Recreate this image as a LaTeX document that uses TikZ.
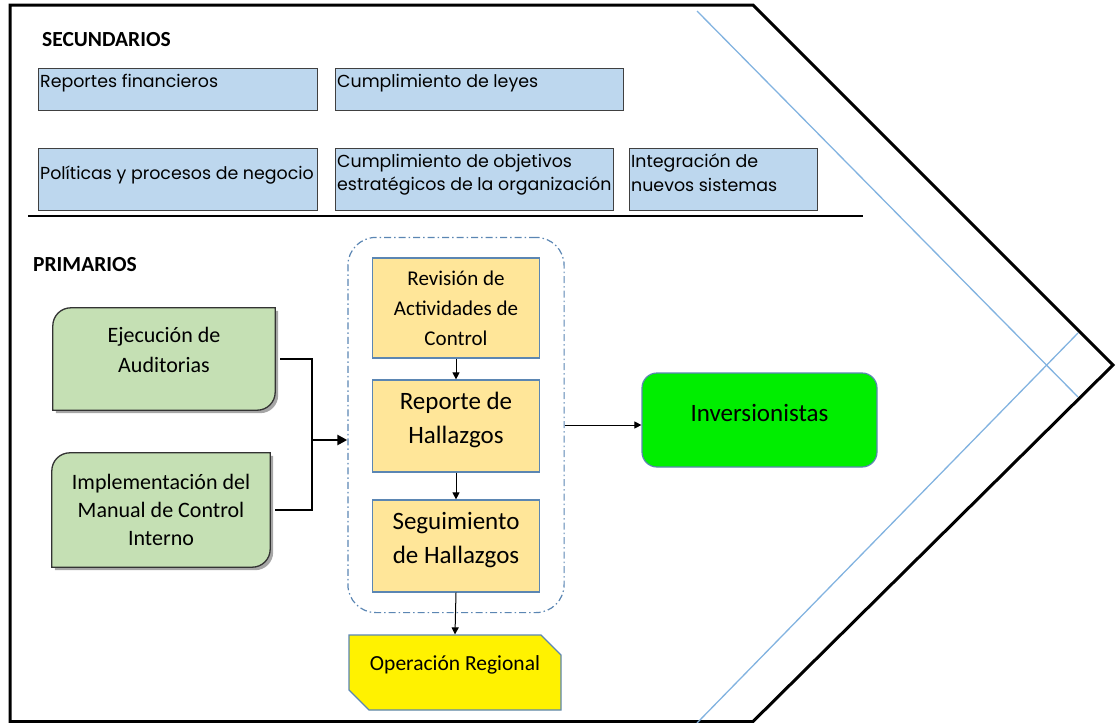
\documentclass[tikz,border=0pt]{standalone}
\usepackage{fontspec}
\setmainfont{Carlito}
\newfontfamily\gothic{Poppins}
\usepackage{tikz}
\usetikzlibrary{fit,shapes.misc,arrows.meta,shadows,backgrounds}
\definecolor{secblue}{HTML}{BDD7EE}
\definecolor{priggreen}{HTML}{C5E0B4}
\definecolor{procorange}{HTML}{FFE699}
\definecolor{procedge}{HTML}{5B86B3}
\definecolor{frameblue}{HTML}{82B3E0}
\definecolor{invgreen}{HTML}{00EE00}
\tikzset{>={Triangle[length=7pt,width=7pt]},
  title/.style={font=\bfseries\fontsize{21.5}{24}\selectfont, inner sep=0pt, anchor=west},
  secbox/.style={draw=black!75, line width=1.3pt, fill=secblue, anchor=north west, inner sep=0pt},
  sectext/.style={inner xsep=2pt, inner ysep=6pt, align=left, font=\gothic\fontsize{17.4}{23.5}\selectfont},
  primtext/.style={align=center, inner sep=0pt},
  primshape/.style={draw=black!80, line width=1.3pt, fill=priggreen,
    drop shadow={shadow xshift=3pt, shadow yshift=-3pt, opacity=0.35, fill=black}},
  procbox/.style={draw=procedge, line width=1.2pt, fill=procorange, align=center, inner sep=0pt},
  conn/.style={line width=1pt, ->}
}

\begin{document}
\begin{tikzpicture}[x=1pt,y=-1pt]
\useasboundingbox (0,0) rectangle (1117,723);

% marco de la cadena
\draw[line width=3pt] (10,5) -- (753,5) -- (1113,365) -- (753,721.5) -- (10,721.5) -- cycle;
\draw[frameblue, line width=1.3pt] (697,11) -- (1078,397);
\draw[frameblue, line width=1.3pt] (1078,333) -- (697,723);
\draw[line width=2.5pt] (28,216) -- (863,216);

\node[title] (sec) at (42,40) {SECUNDARIOS};
\node[title] (prim) at (33,265) {PRIMARIOS};

% actividades secundarias
\node[secbox, minimum width=279pt, minimum height=42pt] (repfin) at (38,68) {};
\node[secbox, minimum width=288pt, minimum height=42pt] (cumpley) at (335,68) {};
\node[secbox, minimum width=279pt, minimum height=62pt] (polit) at (38,148) {};
\node[secbox, minimum width=278pt, minimum height=62pt] (cumpobj) at (335,148) {};
\node[secbox, minimum width=188pt, minimum height=62pt] (integ) at (629,148) {};
\node[sectext, anchor=north west] (repfin-t) at (repfin.north west) {Reportes financieros};
\node[sectext, anchor=north west] (cumpley-t) at (cumpley.north west) {Cumplimiento de leyes};
\node[sectext, anchor=west] (polit-t) at ([yshift=5pt]polit.west) {Políticas y procesos de negocio};
\node[sectext, anchor=north west] (cumpobj-t) at (cumpobj.north west) {Cumplimiento de objetivos\\estratégicos de la organización};
\node[sectext, anchor=north west] (integ-t) at (integ.north west) {Integración de\\nuevos sistemas};

% actividades primarias
\node[primtext, minimum width=222pt, minimum height=102pt, text depth=18pt,
  font=\fontsize{22}{30}\selectfont] (ejec) at (164,359) {Ejecución de\\Auditorias};
\node[primtext, minimum width=218pt, minimum height=114pt,
  font=\fontsize{22}{28}\selectfont] (impl) at (161,510) {Implementación del\\Manual de Control\\Interno};
\begin{scope}[on background layer]
  \draw[primshape] (ejec.south west) [rounded corners=18pt] -- (ejec.north west) [sharp corners] -- (ejec.north east)
    [rounded corners=18pt] -- (ejec.south east) [sharp corners] -- cycle;
  \draw[primshape] (impl.south west) [rounded corners=18pt] -- (impl.north west) [sharp corners] -- (impl.north east)
    [rounded corners=18pt] -- (impl.south east) [sharp corners] -- cycle;
\end{scope}

\node[procbox, minimum width=167pt, minimum height=100pt, font=\fontsize{21}{30}\selectfont] (rev) at (456,308)
  {Revisión de\\Actividades de\\Control};
\node[procbox, minimum width=167pt, minimum height=92pt, text depth=17pt, font=\fontsize{25}{34}\selectfont] (rep) at (456,426)
  {Reporte de\\Hallazgos};
\node[procbox, minimum width=167pt, minimum height=92pt, text depth=17pt, font=\fontsize{25}{34}\selectfont] (seg) at (456,546)
  {Seguimiento\\de Hallazgos};
\node[draw=procedge, line width=1.2pt, dash pattern=on 7pt off 3pt on 1.5pt off 3pt, rounded corners=28pt,
  inner xsep=24pt, inner ysep=20pt, fit=(rev)(seg)] (grupo) {};

\node[chamfered rectangle, chamfered rectangle corners={north east,south west}, chamfered rectangle xsep=10pt,
  chamfered rectangle ysep=10pt, draw=procedge, line width=1.2pt, fill=yellow, minimum width=212pt,
  minimum height=75pt, inner sep=0pt, text depth=18pt, font=\fontsize{21.5}{25}\selectfont] (oper) at (455,672.5)
  {Operación Regional};
\node[draw=procedge, line width=1.2pt, fill=invgreen, rounded corners=15pt, minimum width=235pt,
  minimum height=94pt, inner sep=0pt, text depth=14pt, font=\fontsize{25}{30}\selectfont] (inv) at (759.5,420)
  {Inversionistas};

% conectores
\coordinate (junta) at (312,440);
\draw[line width=1.3pt] ([xshift=5pt]ejec.east) -| (junta) |- ([xshift=5pt]impl.east);
\draw[line width=2.5pt, -{Triangle[length=10pt,width=10pt]}] (junta) -- (grupo.west |- junta);
\draw[conn] (rev) -- (rep);
\draw[conn] (rep) -- (seg);
\draw[conn] (seg.south) -- (oper.north);
\draw[conn] ([yshift=-5pt]grupo.east |- inv.west) -- ([yshift=-5pt]inv.west);
\end{tikzpicture}
\end{document}
